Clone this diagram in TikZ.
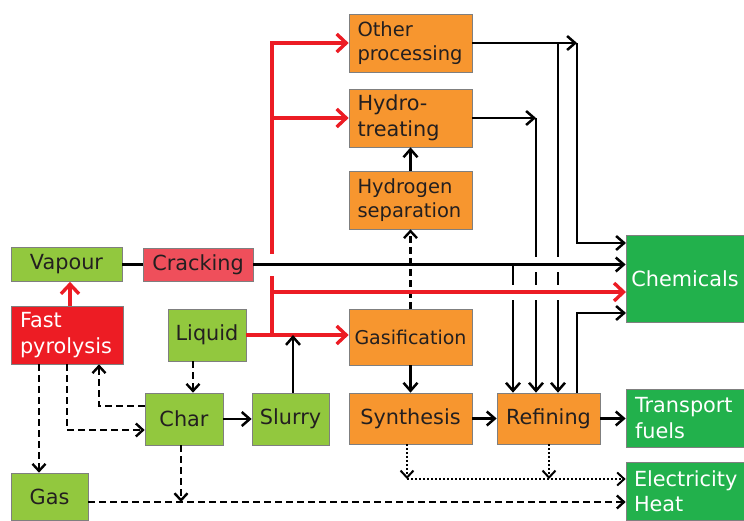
\documentclass[tikz,border=0pt]{standalone}
\usepackage{fontspec}
\setmainfont{DejaVu Sans}
\usetikzlibrary{arrows.meta}
\definecolor{orangeC}{HTML}{F7962F}
\definecolor{lgreen}{HTML}{92C83E}
\definecolor{dgreen}{HTML}{22B14C}
\definecolor{fpred}{HTML}{ED1C24}
\definecolor{crackred}{HTML}{EF4F5B}
\definecolor{linered}{HTML}{EC1C24}
\definecolor{bord}{HTML}{7F7F7F}
\definecolor{txt}{HTML}{231F20}
\begin{document}
\begin{tikzpicture}[x=1pt,y=-1pt,
  box/.style={draw=bord, line width=0.7pt, inner sep=0pt, align=left, text=txt,
    font=\fontsize{20.8}{25.5}\selectfont},
  orbox/.style={box, fill=orangeC},
  lgbox/.style={box, fill=lgreen},
  dgbox/.style={box, fill=dgreen, text=white},
  f19/.style={font=\fontsize{19.5}{24}\selectfont},
  f18/.style={font=\fontsize{19}{22}\selectfont},
  blk/.style={line width=2.5pt, black},
  blkar/.style={blk, -{Straight Barb[length=8pt,width=14pt,line width=2.5pt]}},
  redar/.style={line width=3.4pt, linered, -{Straight Barb[length=9.5pt,width=18pt,line width=3.4pt]}},
  dashar/.style={line width=2.4pt, black, dash pattern=on 7pt off 4pt, -{Straight Barb[length=7pt,width=13pt,line width=2.4pt]}},
  dotar/.style={line width=2pt, black, dash pattern=on 2pt off 2pt, -{Straight Barb[length=7pt,width=13pt,line width=2pt]}},
  gap/.style={fill=white, draw=none}
]
\useasboundingbox (0,0) rectangle (744,520);

% ---------- nodes ----------
\node[orbox, f19, minimum width=123pt, minimum height=58pt, text width=106pt] (Other) at (410.5,43) {Other\\processing};
\node[orbox, minimum width=123pt, minimum height=58pt, text width=106pt] (Hydro) at (410.5,118) {Hydro-\\treating};
\node[orbox, f19, minimum width=123pt, minimum height=58pt, text width=106pt] (HSep) at (410.5,200) {Hydrogen\\separation};
\node[orbox, f18, minimum width=123pt, minimum height=56pt] (Gasif) at (410.5,337) {Gasification};
\node[orbox, minimum width=123pt, minimum height=51pt] (Synth) at (410.5,418.5) {Synthesis};
\node[orbox, minimum width=103pt, minimum height=51pt] (Refin) at (548.5,418.5) {Refining};
\node[dgbox, minimum width=118pt, minimum height=87pt] (Chem) at (685,278.5) {Chemicals};
\node[dgbox, minimum width=118pt, minimum height=58pt, text width=100pt] (Trans) at (685,418) {Transport\\fuels};
\node[dgbox, minimum width=118pt, minimum height=58pt, text width=102pt] (Elec) at (685,491) {Electricity\\Heat};
\node[lgbox, minimum width=111pt, minimum height=34pt] (Vapour) at (66.5,264.5) {Vapour};
\node[box, fill=crackred, minimum width=110pt, minimum height=33pt] (Crack) at (198,264.5) {Cracking};
\node[box, fill=fpred, text=white, minimum width=112pt, minimum height=58pt, text width=94pt] (FP) at (67,335) {Fast\\pyrolysis};
\node[lgbox, minimum width=78pt, minimum height=52pt] (Liquid) at (207,335) {Liquid};
\node[lgbox, minimum width=78pt, minimum height=52pt] (Char) at (184,419) {Char};
\node[lgbox, minimum width=77pt, minimum height=52pt] (Slurry) at (290.5,419) {Slurry};
\node[lgbox, minimum width=77pt, minimum height=47pt] (Gas) at (49.5,496.5) {Gas};

% ---------- helper coordinates ----------
\coordinate (J) at (272,335);
\coordinate (JR) at (272,292);
\coordinate (CR) at (626,292);
\coordinate (VX) at (70,0);
\coordinate (O1) at (577,43);
\coordinate (O2) at (558,43);
\coordinate (C1) at (626,243);
\coordinate (H1) at (536,118);
\coordinate (V1) at (513,264.5);
\coordinate (RX) at (577,0);
\coordinate (C4) at (626,313);
\coordinate (SX) at (293,0);
\coordinate (DS) at (407,0);
\coordinate (E1) at (407,479);
\coordinate (R2) at (549,479);
\coordinate (GL) at (0,502);
\coordinate (CX) at (181,0);
\coordinate (LX) at (193,0);
\coordinate (CY) at (0,406);
\coordinate (PX) at (99,0);
\coordinate (PX2) at (67,0);
\coordinate (CY2) at (0,430);
\coordinate (PX3) at (39,0);

% ---------- vertical connectors (drawn first, cut by crossings) ----------
\draw[redar] (J) |- (Other.west);
\draw[redar] (Hydro.west -| J) -- (Hydro.west);
\draw[blkar] (Other.east) -- (O1);
\draw[blkar] (O1) |- (C1);
\draw[blkar] (O2) -- (O2 |- Refin.north);
\draw[blkar] (Hydro.east) -- (H1);
\draw[blkar] (H1) -- (H1 |- Refin.north);
\draw[blkar] (V1) -- (V1 |- Refin.north);
\draw[dashar] (Gasif.north) -- (HSep.south);

% ---------- gaps at crossings ----------
\fill[gap] (267,253.5) rectangle (277,275.5);
\fill[gap] (531,257) rectangle (541,272);
\fill[gap] (553,257) rectangle (563,272);
\fill[gap] (508,284.5) rectangle (518,300);
\fill[gap] (531,284.5) rectangle (541,300);
\fill[gap] (553,284.5) rectangle (563,300);

% ---------- horizontal connectors ----------
\draw[blk] (Vapour.east) -- (Crack.west);
\draw[blkar] (Crack.east) -- (Crack.east -| Chem.west);
\draw[redar] (JR) -- (CR);
\draw[redar] (Liquid.east) -- (Liquid.east -| Gasif.west);
\draw[redar] (FP.north -| VX) -- (Vapour.south -| VX);

% ---------- other solid connectors ----------
\draw[blkar] (Refin.north -| RX) |- (C4);
\draw[blkar] (HSep.north) -- (Hydro.south);
\draw[blkar] (Gasif.south) -- (Synth.north);
\draw[blkar] (Synth.east) -- (Refin.west);
\draw[blkar] (Refin.east) -- (Refin.east -| Trans.west);
\draw[blkar] (Char.east) -- (Slurry.west);
\draw[blkar] (Slurry.north -| SX) -- (J -| SX);

% ---------- dotted ----------
\draw[dotar] (Synth.south -| DS) -- (E1);
\draw[dotar] (Refin.south -| R2) -- (R2);
\draw[dotar] (E1) -- (E1 -| Elec.west);

% ---------- dashed ----------
\draw[dashar] (Gas.east |- GL) -- (Elec.west |- GL);
\draw[dashar] (Char.south -| CX) -- (CX |- GL);
\draw[dashar] (Liquid.south -| LX) -- (Char.north -| LX);
\draw[dashar] (Char.west |- CY) -| (FP.south -| PX);
\draw[dashar] (FP.south -| PX2) |- (Char.west |- CY2);
\draw[dashar] (FP.south -| PX3) -- (Gas.north -| PX3);
\end{tikzpicture}
\end{document}
